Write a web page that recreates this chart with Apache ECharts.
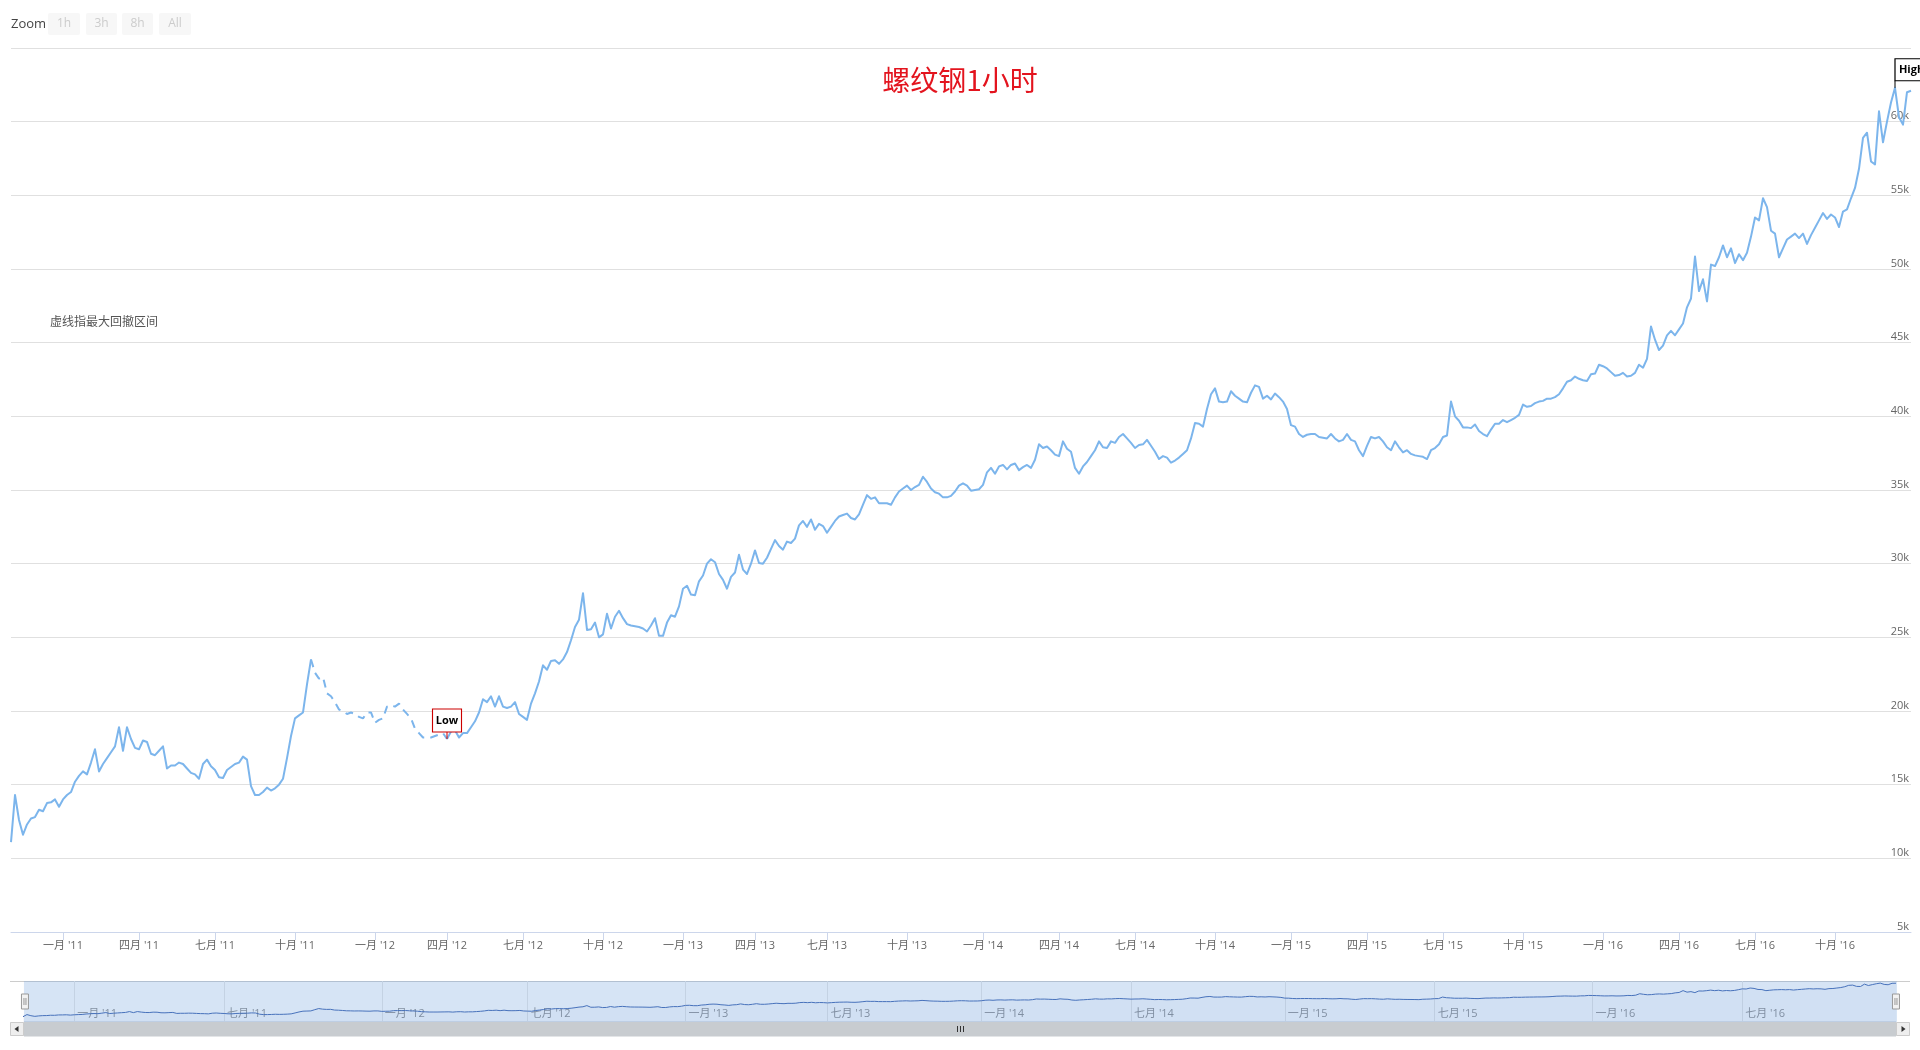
<!DOCTYPE html>
<html><head><meta charset="utf-8">
<script src="https://cdn.jsdelivr.net/npm/echarts@6/dist/echarts.min.js"></script>
<style>html,body{margin:0;padding:0;background:#fff}#chart{width:1920px;height:1050px}</style>
</head><body><div id="chart"></div>
<script>
// Quarter tick labels (first entry: partial Q4 2010, unlabeled)
const quarterLabels = ["", "一月 '11", "四月 '11", "七月 '11", "十月 '11", "一月 '12", "四月 '12", "七月 '12", "十月 '12",
  "一月 '13", "四月 '13", "七月 '13", "十月 '13", "一月 '14", "四月 '14", "七月 '14", "十月 '14",
  "一月 '15", "四月 '15", "七月 '15", "十月 '15", "一月 '16", "四月 '16", "七月 '16", "十月 '16"];

// Equity values (thousands), sampled evenly along the ordinal (trading-time) axis, one array per quarter
const q2010Q4 = [11.1, 14.3, 12.6, 11.6, 12.3, 12.7, 12.8, 13.3, 13.2, 13.75, 13.8, 14.0, 13.5];
const q2011Q1 = [14.0, 14.3, 14.5, 15.2, 15.6, 15.9, 15.7, 16.5, 17.4, 15.9, 16.4, 16.8, 17.2, 17.6, 18.9, 17.3, 18.9, 18.1, 17.5];
const q2011Q2 = [17.4, 18.0, 17.9, 17.1, 17.0, 17.3, 17.6, 16.1, 16.3, 16.3, 16.5, 16.4, 16.1, 15.8, 15.7, 15.4, 16.4, 16.7, 16.25];
const q2011Q3 = [16.0, 15.5, 15.45, 16.0, 16.2, 16.4, 16.5, 16.9, 16.7, 14.9, 14.3, 14.3, 14.5, 14.8, 14.6, 14.75, 15.0, 15.4, 16.8, 18.3];
const q2011Q4 = [19.5, 19.7, 19.9, 21.8, 23.5, 22.6, 22.2, 22.3, 21.2, 21.0, 20.6, 20.1, 20.0, 19.8, 19.9, 19.8, 19.6, 19.5, 19.9, 19.9];
const q2012Q1 = [19.2, 19.4, 19.5, 20.3, 20.4, 20.3, 20.5, 20.1, 19.8, 19.5, 18.8, 18.5, 18.2, 18.2, 18.2, 18.3, 18.4, 18.5];
const q2012Q2 = [18.1, 18.6, 18.7, 18.2, 18.5, 18.5, 18.9, 19.3, 19.9, 20.8, 20.6, 21.0, 20.3, 21.0, 20.3, 20.2, 20.3, 20.6, 19.8];
const q2012Q3 = [19.6, 19.4, 20.5, 21.2, 22.0, 23.1, 22.8, 23.4, 23.45, 23.2, 23.5, 24.0, 24.8, 25.7, 26.2, 28.0, 25.5, 25.55, 26.0, 25.0];
const q2012Q4 = [25.2, 26.6, 25.6, 26.4, 26.8, 26.3, 25.9, 25.8, 25.75, 25.7, 25.6, 25.4, 25.8, 26.3, 25.1, 25.1, 26.0, 26.5, 26.4, 27.1];
const q2013Q1 = [28.3, 28.5, 27.9, 27.85, 28.8, 29.2, 30.0, 30.3, 30.1, 29.3, 28.9, 28.3, 29.1, 29.4, 30.6, 29.6, 29.3, 30.0];
const q2013Q2 = [30.9, 30.05, 30.0, 30.4, 31.0, 31.6, 31.2, 30.95, 31.5, 31.4, 31.7, 32.6, 32.9, 32.5, 33.0, 32.3, 32.7, 32.55];
const q2013Q3 = [32.1, 32.5, 32.9, 33.2, 33.3, 33.4, 33.1, 33.0, 33.35, 34.0, 34.65, 34.4, 34.5, 34.1, 34.1, 34.1, 34.0, 34.5, 34.9, 35.1];
const q2013Q4 = [35.3, 35.0, 35.2, 35.35, 35.9, 35.55, 35.1, 34.85, 34.75, 34.5, 34.5, 34.6, 34.9, 35.3, 35.45, 35.3, 34.95, 35.0, 35.05];
const q2014Q1 = [35.35, 36.2, 36.5, 36.1, 36.6, 36.7, 36.4, 36.7, 36.8, 36.35, 36.55, 36.7, 36.5, 37.05, 38.1, 37.85, 37.95, 37.7, 37.4];
const q2014Q2 = [37.3, 38.3, 37.8, 37.6, 36.5, 36.1, 36.6, 36.9, 37.3, 37.7, 38.3, 37.9, 37.85, 38.3, 38.2, 38.6, 38.8, 38.5, 38.2];
const q2014Q3 = [37.85, 38.05, 38.1, 38.4, 38.0, 37.6, 37.1, 37.3, 37.2, 36.85, 37.0, 37.2, 37.45, 37.7, 38.5, 39.55, 39.5, 39.3, 40.5, 41.5];
const q2014Q4 = [41.9, 41.0, 40.95, 41.0, 41.7, 41.4, 41.2, 41.0, 40.95, 41.6, 42.1, 42.0, 41.2, 41.4, 41.15, 41.55, 41.3, 41.0, 40.5];
const q2015Q1 = [39.4, 39.3, 38.8, 38.6, 38.75, 38.8, 38.8, 38.6, 38.55, 38.5, 38.8, 38.5, 38.3, 38.4, 38.8, 38.4, 38.3, 37.7, 37.3];
const q2015Q2 = [38.0, 38.6, 38.5, 38.6, 38.3, 37.9, 37.7, 38.3, 37.9, 37.55, 37.7, 37.45, 37.35, 37.3, 37.25, 37.1, 37.7, 37.85, 38.1];
const q2015Q3 = [38.6, 38.7, 41.0, 40.0, 39.7, 39.25, 39.25, 39.2, 39.45, 39.0, 38.8, 38.65, 39.1, 39.5, 39.5, 39.75, 39.6, 39.75, 39.9, 40.1];
const q2015Q4 = [40.8, 40.65, 40.7, 40.9, 41.0, 41.05, 41.2, 41.2, 41.3, 41.5, 41.9, 42.35, 42.45, 42.7, 42.55, 42.45, 42.4, 42.85, 42.9, 43.5];
const q2016Q1 = [43.4, 43.25, 43.0, 42.75, 42.8, 42.95, 42.7, 42.75, 42.95, 43.5, 43.3, 43.9, 46.1, 45.2, 44.5, 44.8, 45.5, 45.8, 45.5];
const q2016Q2 = [45.9, 46.3, 47.4, 48.0, 50.85, 48.5, 49.3, 47.8, 50.3, 50.2, 50.8, 51.6, 50.8, 51.4, 50.4, 51.0, 50.6, 51.1, 52.2];
const q2016Q3 = [53.5, 53.3, 54.8, 54.2, 52.6, 52.4, 50.8, 51.4, 52.0, 52.2, 52.4, 52.1, 52.4, 51.7, 52.3, 52.8, 53.3, 53.8, 53.4, 53.7];
const q2016Q4 = [53.5, 52.85, 53.9, 54.05, 54.8, 55.5, 56.8, 58.9, 59.25, 57.3, 57.1, 60.7, 58.6, 60.0, 61.3, 62.3, 60.3, 59.8, 62.0, 62.1];

const quarters = [q2010Q4, q2011Q1, q2011Q2, q2011Q3, q2011Q4, q2012Q1, q2012Q2, q2012Q3, q2012Q4,
  q2013Q1, q2013Q2, q2013Q3, q2013Q4, q2014Q1, q2014Q2, q2014Q3, q2014Q4,
  q2015Q1, q2015Q2, q2015Q3, q2015Q4, q2016Q1, q2016Q2, q2016Q3, q2016Q4];

const cats = [], values = [], tickText = {};
quarters.forEach((q, qi) => q.forEach((v, j) => {
  const c = 'Q' + qi + '-' + j;
  cats.push(c); values.push(v);
  if (j === 0 && quarterLabels[qi]) tickText[c] = quarterLabels[qi];
}));
const isTick = (i, c) => tickText[c] !== undefined;
const isNavTick = (i, c) => tickText[c] !== undefined && (tickText[c].indexOf('一月') === 0 || tickText[c].indexOf('七月') === 0);

// maximum drawdown interval (peak -> trough)
let runMax = 0, best = 0, peakIdx = 0, lowIdx = 0;
for (let i = 0; i < values.length; i++) {
  if (values[i] > values[runMax]) runMax = i;
  const dd = values[runMax] - values[i];
  if (dd > best) { best = dd; peakIdx = runMax; lowIdx = i; }
}
let highIdx = 0;
values.forEach((v, i) => { if (v > values[highIdx]) highIdx = i; });

const solid = values.map((v, i) => (i > peakIdx && i < lowIdx) ? null : v);
const dashed = values.map((v, i) => (i >= peakIdx && i <= lowIdx) ? v : null);

const FONT = '"Open Sans", "Noto Sans CJK SC", sans-serif';
const CJK = '"Noto Sans CJK SC", sans-serif';

const chart = echarts.init(document.getElementById('chart'), null, { renderer: 'canvas' });

const btn = (x, w, label) => ([
  { type: 'rect', shape: { x: x, y: 13, width: w, height: 22, r: 2 }, style: { fill: '#f7f7f7' }, silent: true },
  { type: 'text', style: { x: x + w / 2, y: 24, text: label, fill: '#cccccc', font: '12px ' + FONT, align: 'center', verticalAlign: 'middle' }, silent: true }
]);

const option = {
  animation: false,
  backgroundColor: '#ffffff',
  title: [
    { text: '螺纹钢1小时', left: 'center', top: 66, padding: 0,
      textStyle: { color: '#e3141e', fontSize: 28, fontWeight: 'normal', fontFamily: CJK } },
    { text: '虚线指最大回撤区间', left: 50, top: 315, padding: 0,
      textStyle: { color: '#555555', fontSize: 12, fontWeight: 'normal', fontFamily: CJK } }
  ],
  grid: [
    { left: 11, right: 9, top: 48, bottom: 118, containLabel: false, outerBoundsMode: 'none' },
    { left: 23, right: 24, top: 981, height: 41, containLabel: false, outerBoundsMode: 'none' }
  ],
  xAxis: [
    { type: 'category', gridIndex: 0, data: cats, boundaryGap: false,
      axisLine: { lineStyle: { color: '#ccd6eb' } },
      axisTick: { show: true, interval: isTick, length: 8, lineStyle: { color: '#ccd6eb' } },
      axisLabel: { interval: isTick, formatter: (v) => tickText[v] || '', color: '#666666', fontSize: 11, margin: 8, fontFamily: FONT },
      splitLine: { show: false } },
    { type: 'category', gridIndex: 1, data: cats, boundaryGap: false,
      axisLine: { show: false }, axisTick: { show: false },
      axisLabel: { inside: true, interval: isNavTick, formatter: (v) => tickText[v] || '', color: '#888888', fontSize: 11,
        margin: 3, align: 'left', padding: [0, 0, 0, 3], fontFamily: FONT },
      splitLine: { show: true, interval: isNavTick, lineStyle: { color: '#e6e6e6' } } }
  ],
  yAxis: [
    { type: 'value', gridIndex: 0, position: 'right', min: 5, max: 65, interval: 5,
      axisLine: { show: false }, axisTick: { show: false },
      splitLine: { lineStyle: { color: '#e0e0e0' } },
      axisLabel: { inside: true, formatter: (v) => v >= 65 ? '' : v + 'k', color: '#666666', fontSize: 11,
        verticalAlign: 'bottom', margin: 2, fontFamily: FONT } },
    { type: 'value', gridIndex: 1, min: 3, max: 65.5, show: false, splitLine: { show: false } }
  ],
  dataZoom: [{
    type: 'slider', xAxisIndex: 0, filterMode: 'none', start: 0, end: 100,
    left: 23, right: 24, top: 981, height: 41,
    backgroundColor: 'rgba(0,0,0,0)', borderColor: 'rgba(0,0,0,0)',
    fillerColor: 'rgba(118,165,222,0.3)',
    showDataShadow: false, showDetail: false, brushSelect: false, moveHandleSize: 0,
    handleIcon: 'path://M0,0 L7,0 L7,15 L0,15 Z M2.5,4 L2.5,11 M4.5,4 L4.5,11',
    handleSize: 15,
    handleStyle: { color: '#f2f2f2', borderColor: '#999999', borderWidth: 1 },
    emphasis: { handleStyle: { color: '#f2f2f2', borderColor: '#999999', borderWidth: 1 } }
  }],
  graphic: [
    { type: 'text', style: { x: 11, y: 24, text: 'Zoom', fill: '#444444', font: '13px ' + FONT, verticalAlign: 'middle' }, silent: true },
    ...btn(48, 32, '1h'), ...btn(86, 31, '3h'), ...btn(122, 31, '8h'), ...btn(159, 32, 'All'),
    { type: 'line', shape: { x1: 10, y1: 981.5, x2: 1910, y2: 981.5 }, style: { stroke: '#cccccc', lineWidth: 1 }, silent: true },
    // scrollbar
    { type: 'rect', shape: { x: 10, y: 1022, width: 1900, height: 14 }, style: { fill: '#f2f2f2' }, silent: true },
    { type: 'rect', shape: { x: 24, y: 1022, width: 1872, height: 14 }, style: { fill: '#c8ccd0', stroke: '#c8ccd0' }, silent: true },
    { type: 'rect', shape: { x: 10.5, y: 1022.5, width: 13, height: 13 }, style: { fill: '#eeeeee', stroke: '#cccccc' }, silent: true },
    { type: 'polygon', shape: { points: [[18.5, 1026], [18.5, 1032], [14.5, 1029]] }, style: { fill: '#333333' }, silent: true },
    { type: 'rect', shape: { x: 1896.5, y: 1022.5, width: 13, height: 13 }, style: { fill: '#eeeeee', stroke: '#cccccc' }, silent: true },
    { type: 'polygon', shape: { points: [[1901.5, 1026], [1901.5, 1032], [1905.5, 1029]] }, style: { fill: '#333333' }, silent: true },
    { type: 'line', shape: { x1: 957.5, y1: 1026, x2: 957.5, y2: 1032 }, style: { stroke: '#333333' }, silent: true },
    { type: 'line', shape: { x1: 960.5, y1: 1026, x2: 960.5, y2: 1032 }, style: { stroke: '#333333' }, silent: true },
    { type: 'line', shape: { x1: 963.5, y1: 1026, x2: 963.5, y2: 1032 }, style: { stroke: '#333333' }, silent: true }
  ],
  series: [
    { name: 'equity', type: 'line', xAxisIndex: 0, yAxisIndex: 0, data: solid, symbol: 'none', silent: true,
      lineStyle: { color: '#7cb5ec', width: 2, join: 'round' }, itemStyle: { color: '#7cb5ec' }, z: 3,
      markPoint: {
        silent: true, animation: false,
        data: [
          { coord: [cats[lowIdx], values[lowIdx]], symbol: 'rect', symbolSize: [1, 7], symbolOffset: [0, -3.5],
            itemStyle: { color: '#cc0000' }, label: { show: false } },
          { coord: [cats[lowIdx], values[lowIdx]], symbol: 'rect', symbolSize: [29, 23], symbolOffset: [0, -18.5],
            itemStyle: { color: '#ffffff', borderColor: '#cc0000', borderWidth: 1 },
            label: { show: true, position: 'inside', formatter: 'Low', color: '#000000', fontWeight: 'bold', fontSize: 11, fontFamily: FONT } },
          { coord: [cats[highIdx], values[highIdx]], symbol: 'rect', symbolSize: [1, 7], symbolOffset: [0, -3.5],
            itemStyle: { color: '#000000' }, label: { show: false } },
          { coord: [cats[highIdx], values[highIdx]], symbol: 'rect', symbolSize: [33, 22], symbolOffset: [16.5, -18],
            itemStyle: { color: '#ffffff', borderColor: '#000000', borderWidth: 1 },
            label: { show: true, position: 'inside', formatter: 'High', color: '#000000', fontWeight: 'bold', fontSize: 11, fontFamily: FONT } }
        ]
      } },
    { name: 'drawdown', type: 'line', xAxisIndex: 0, yAxisIndex: 0, data: dashed, symbol: 'none', silent: true,
      lineStyle: { color: '#7cb5ec', width: 2, type: [8, 6] }, z: 3 },
    { name: 'navigator', type: 'line', xAxisIndex: 1, yAxisIndex: 1, data: values, symbol: 'none', silent: true,
      lineStyle: { color: '#335cad', width: 1 }, areaStyle: { color: 'rgba(51,92,173,0.05)' } }
  ]
};
chart.setOption(option);
</script>
</body></html>
